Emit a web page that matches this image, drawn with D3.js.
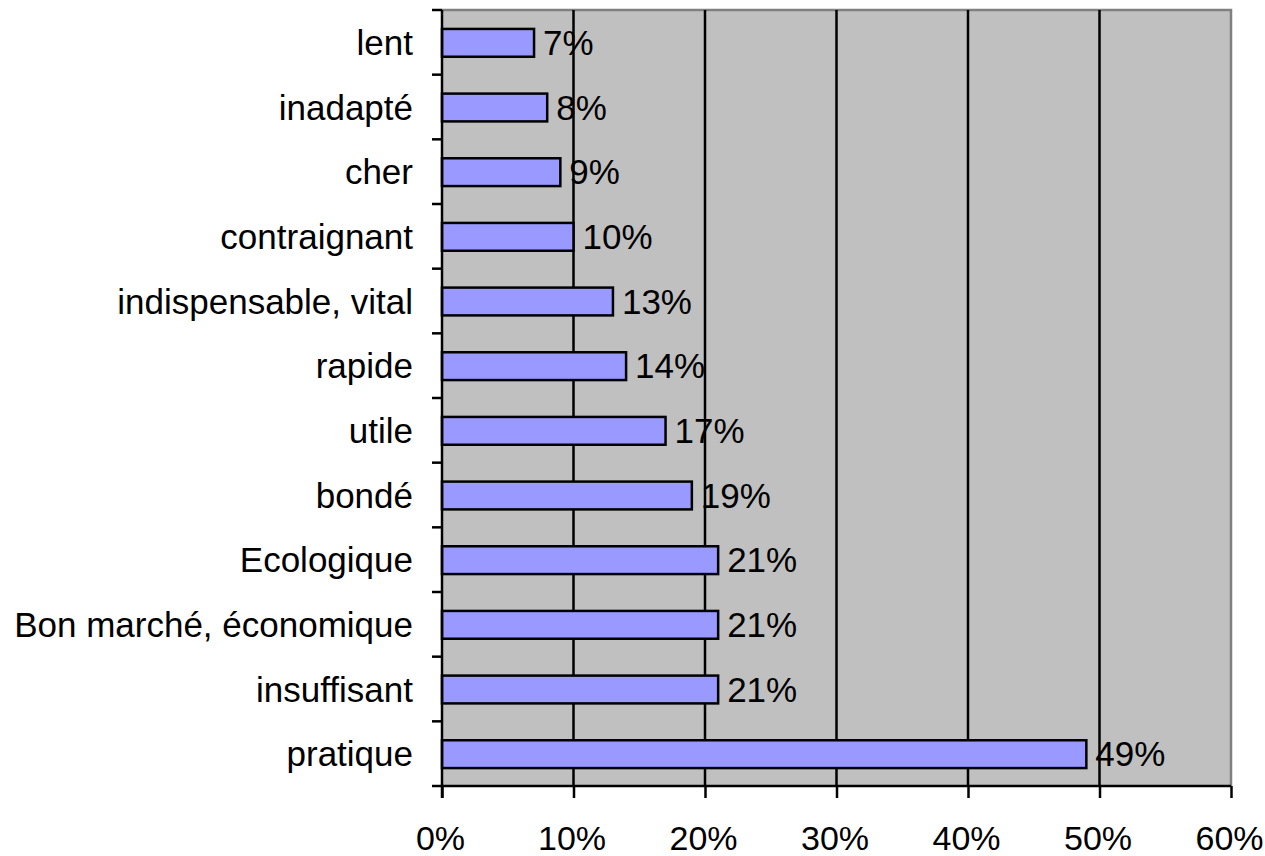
<!DOCTYPE html>
<html><head><meta charset="utf-8">
<script src="https://cdn.jsdelivr.net/npm/d3@7"></script>
<style>body{margin:0;background:#fff}svg{display:block}text{font-family:Arial,"Liberation Sans",sans-serif;fill:#000}</style>
</head><body>
<svg id="c" width="1265" height="856"></svg>
<script>
const categories = ["lent","inadapté","cher","contraignant","indispensable, vital","rapide","utile","bondé","Ecologique","Bon marché, économique","insuffisant","pratique"];
const values = [7,8,9,10,13,14,17,19,21,21,21,49];
const xTicks = [0,10,20,30,40,50,60];

const svg = d3.select("#c");
const L = 442, R = 1231, T = 10, B = 786;
const x = d3.scaleLinear().domain([0,60]).range([L,R]);
const y = d3.scaleBand().domain(categories).range([T,B]).paddingInner(0).paddingOuter(0);
const fs = 35;
const ff = "Arial,'Liberation Sans',sans-serif";

// plot background
svg.append("rect").attr("x",L).attr("y",T).attr("width",R-L).attr("height",B-T).attr("fill","#C0C0C0");
// top/right border gray
svg.append("path").attr("d",`M${L},${T}H${R}V${B}`).attr("fill","none").attr("stroke","#808080").attr("stroke-width",2.5);
// gridlines
svg.append("g").selectAll("line").data(xTicks.filter(d=>d>0 && d<60)).join("line")
  .attr("x1",d=>x(d)).attr("x2",d=>x(d)).attr("y1",T).attr("y2",B)
  .attr("stroke","#000").attr("stroke-width",2.5);

// bars
const bh = y.bandwidth()*0.43;
svg.append("g").selectAll("rect").data(categories).join("rect")
  .attr("x",x(0)).attr("y",(d)=>y(d)+y.bandwidth()/2-bh/2+0.5)
  .attr("width",(d,i)=>x(values[i])-x(0)).attr("height",bh)
  .attr("fill","#9999FF").attr("stroke","#000").attr("stroke-width",2.5);

// value labels
svg.append("g").selectAll("text").data(categories).join("text")
  .attr("x",(d,i)=>x(values[i])+9).attr("y",d=>y(d)+y.bandwidth()/2+12.5)
  .attr("font-size",fs).text((d,i)=>values[i]+"%");

// x axis
const xa = svg.append("g").attr("transform",`translate(0,${B})`)
  .call(d3.axisBottom(x).tickValues(xTicks).tickFormat(d=>d+"%").tickSize(12).tickPadding(0));
xa.select(".domain").attr("stroke","#000").attr("stroke-width",2.5).attr("d",`M${L},0H${R}`);
xa.selectAll(".tick line").attr("stroke","#000").attr("stroke-width",2.5);
xa.selectAll(".tick text").attr("font-size",34).attr("font-family",ff).attr("fill","#000").attr("dy",null).attr("y",64).attr("dx",-2);

// y axis
const ya = svg.append("g").attr("transform",`translate(${L},0)`)
  .call(d3.axisLeft(y).tickSize(0).tickPadding(29));
ya.select(".domain").attr("stroke","#000").attr("stroke-width",2.5).attr("d",`M0,${T}V${B+12}`);
ya.selectAll(".tick text").attr("font-size",fs).attr("font-family",ff).attr("fill","#000").attr("dy",null).attr("y",12.5);
// y tick marks at band boundaries
const bounds = categories.map(d=>y(d)).concat([B]);
ya.append("g").selectAll("line").data(bounds).join("line")
  .attr("x1",-10).attr("x2",0).attr("y1",d=>d).attr("y2",d=>d)
  .attr("stroke","#000").attr("stroke-width",2.5);
</script>
</body></html>
